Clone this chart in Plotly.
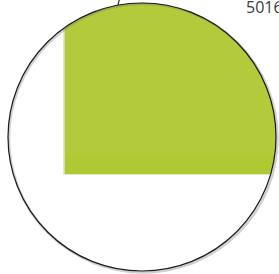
import plotly.graph_objects as go

# Data: one magnified bar (its top runs beyond the lens)
categories = ["5016"]
values = [100]
label_text = ["5016"]

W, H = 279, 274

def px(x):
    return x / W

def py(y):
    return 1 - y / H

# lens (circle) geometry in pixels
cx, cy, r = 142, 137, 134
k = 0.5523

def circle_path():
    pts = [
        (cx + r, cy),
        (cx + r, cy + k * r), (cx + k * r, cy + r), (cx, cy + r),
        (cx - k * r, cy + r), (cx - r, cy + k * r), (cx - r, cy),
        (cx - r, cy - k * r), (cx - k * r, cy - r), (cx, cy - r),
        (cx + k * r, cy - r), (cx + r, cy - k * r), (cx + r, cy),
    ]
    p = [(px(a), py(b)) for a, b in pts]
    s = f"M {p[0][0]},{p[0][1]} "
    for i in range(1, 13, 3):
        s += f"C {p[i][0]},{p[i][1]} {p[i+1][0]},{p[i+1][1]} {p[i+2][0]},{p[i+2][1]} "
    return s + "Z"

mask = "M -0.2,-0.2 L 1.2,-0.2 L 1.2,1.2 L -0.2,1.2 Z " + circle_path()

fig = go.Figure(
    go.Bar(
        x=categories,
        y=values,
        width=[0.8],
        marker=dict(color="#b3cb3b", line=dict(width=0)),
        hoverinfo="skip",
    )
)

fig.update_layout(
    width=W,
    height=H,
    margin=dict(l=0, r=0, t=0, b=0),
    paper_bgcolor="white",
    plot_bgcolor="white",
    showlegend=False,
    hovermode=False,
    xaxis=dict(range=[-0.5786, 0.2], visible=False, fixedrange=True),
    yaxis=dict(range=[-40, 70], visible=False, fixedrange=True),
    shapes=[
        # thin light strip on the bar's left edge
        dict(type="rect", xref="paper", yref="paper",
             x0=px(63), x1=px(65), y0=py(175), y1=py(0),
             fillcolor="rgba(220,226,200,0.8)", line=dict(width=0), layer="above"),
        # slightly darker lower band of the bar
        dict(type="rect", xref="paper", yref="paper",
             x0=px(65), x1=px(279), y0=py(174.5), y1=py(155),
             fillcolor="rgba(160,192,30,0.18)", line=dict(width=0), layer="above"),
        # white mask outside the lens
        dict(type="path", xref="paper", yref="paper", path=mask,
             fillcolor="white", fillrule="evenodd", line=dict(width=0), layer="above"),
        # soft shadow of the lens rim
        dict(type="circle", xref="paper", yref="paper",
             x0=px(cx - r + 1), x1=px(cx + r + 1.5), y0=py(cy + r + 1.5), y1=py(cy - r + 1),
             line=dict(color="rgba(120,120,120,0.35)", width=2.5), layer="above"),
        # lens rim
        dict(type="circle", xref="paper", yref="paper",
             x0=px(cx - r), x1=px(cx + r), y0=py(cy + r), y1=py(cy - r),
             line=dict(color="#1a1a1a", width=1.2), layer="above"),
        # leader line
        dict(type="line", xref="paper", yref="paper",
             x0=px(119.5), y0=py(-1), x1=px(118), y1=py(cy - r + 1.8),
             line=dict(color="#1a1a1a", width=1.1), layer="above"),
    ],
    annotations=[
        dict(text=label_text[0], xref="paper", yref="paper",
             x=px(244), y=py(7), xanchor="left", yanchor="middle",
             showarrow=False,
             font=dict(family="Open Sans", size=16, color="#3a3a3a")),
    ],
)

fig.write_html("out.html", config={"displayModeBar": False},
               post_script="document.body.style.margin='0';")
